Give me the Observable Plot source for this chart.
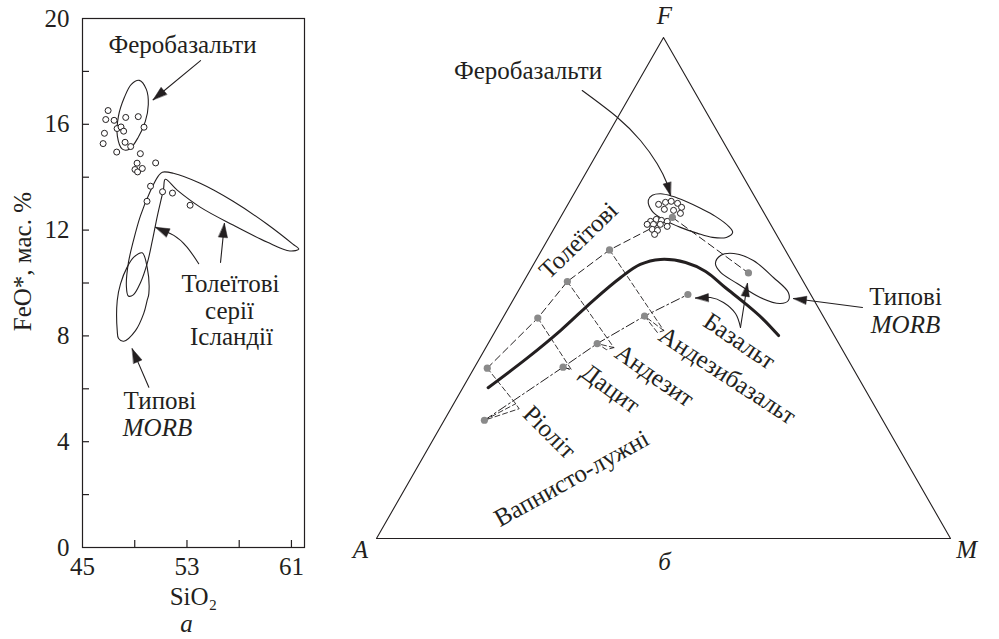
<!DOCTYPE html>
<html><head><meta charset="utf-8">
<script src="https://cdn.jsdelivr.net/npm/d3@7"></script>
<script src="https://cdn.jsdelivr.net/npm/@observablehq/plot@0.6"></script>
<style>
html,body{margin:0;padding:0;background:#fff;}
#wrap{position:relative;width:999px;height:639px;overflow:hidden;background:#fff;}
#wrap svg{position:absolute;top:0;max-width:none;}
</style></head>
<body><div id="wrap"></div>
<script>
// ===================== LEFT PANEL (a): SiO2 vs FeO* =====================
const sio2 = [46.96,46.78,47.42,48.31,49.27,46.68,47.65,47.95,48.15,49.71,46.58,48.26,48.69,47.62,49.43,49.18,50.60,49.02,49.22,49.58,50.21,49.94,51.13,51.89,53.24];
const feo  = [16.52,16.18,16.15,16.26,16.29,15.66,15.84,15.90,15.74,15.89,15.27,15.32,15.16,14.95,14.89,14.53,14.54,14.29,14.20,14.33,13.66,13.09,13.45,13.40,12.94];
const yTickLabels = [0,4,8,12,16,20];
const yTicks = [2,4,6,8,10,12,14,16,18];
const xTickLabels = [45,53,61];
const xTicks = [49,53,57,61];
const ferroFieldLeft = [[49.35,17.66],[49.89,17.32],[50.04,16.75],[49.81,16.11],[49.27,15.51],[48.59,15.06],[48.05,15.06],[47.67,15.55],[47.75,16.30],[48.21,17.02],[48.74,17.51]];
const icelandField = [[51.11,14.19],[51.95,14.15],[54.01,13.77],[56.53,13.09],[59.12,12.23],[61.11,11.47],[61.56,11.28],[60.88,11.21],[59.12,11.55],[56.53,12.19],[54.01,12.87],[52.25,13.51],[51.34,13.92],[51.20,13.55],[50.73,12.53],[50.34,11.58],[49.96,10.75],[49.43,10.00],[48.89,9.55],[48.51,9.51],[48.36,9.89],[48.51,10.75],[48.89,11.58],[49.43,12.53],[50.19,13.47],[50.80,14.04]];
const morbFieldLeft = [[49.57,11.14],[49.95,10.60],[50.08,9.60],[49.95,9.34],[49.69,8.85],[49.06,8.20],[48.16,7.80],[47.76,7.90],[47.66,8.20],[47.66,9.34],[47.91,9.97],[48.42,10.60],[48.93,10.98]];
const leftLabels = [
  {t:"Феробазальти", x:52.66, y:18.98},
  {t:"Толеїтові", x:56.33, y:9.98},
  {t:"серії", x:56.26, y:8.96},
  {t:"Ісландії", x:56.41, y:7.94},
  {t:"Типові", x:50.93, y:5.52},
  {t:"SiO₂", x:53.5, y:-1.89}
];
const leftItalic = [{t:"MORB", x:50.74, y:4.50},{t:"а", x:52.96, y:-2.91}];
const leftYLabel = [{t:"FeO*, мас. %", x:40.48, y:10.81}];
const leftArrows = [
  {pts:[[54.04,18.41],[50.41,16.93]]},
  {pts:[[53.90,10.73],[53.02,11.35],[51.99,11.80],[50.59,12.11]]},
  {pts:[[55.57,10.78],[55.87,12.25]]},
  {pts:[[50.08,6.06],[48.81,7.51]]}
];

// ===================== RIGHT PANEL (б): AFM ternary (A, F, M in %) =====================
const thoA = [63.7,49.9,41.1,30.6,16.4,8.7];
const thoF = [34.0,44.0,51.3,57.6,64.1,53.0];
const thoM = [2.3,6.1,7.6,11.8,19.5,38.3];
const caA = [69.4,50.4,42.1,31.1,21.4];
const caF = [23.6,34.2,38.9,44.4,48.7];
const caM = [7.0,15.4,19.0,24.5,29.9];
const bndA = [65.5,55.6,47.2,38.5,31.4,26.7,22.7,18.6,16.0,14.2,12.3,10.8,9.7];
const bndF = [30.1,36.1,41.5,47.5,52.1,54.7,55.7,55.1,53.3,50.1,46.9,43.9,40.5];
const bndM = [4.4,8.3,11.3,14.0,16.5,18.6,21.6,26.3,30.7,35.7,40.8,45.3,49.8];
const fbA = [17.5,16.1,15.0,14.1,13.8,17.0,15.5,14.6,20.6,19.4,18.6,17.7,21.5,20.4,19.2,18.2,21.1,20.3,21.2];
const fbF = [66.7,67.1,67.3,66.9,66.1,65.7,65.5,64.9,63.3,63.7,63.5,63.3,62.7,62.7,62.7,62.3,61.7,61.5,60.7];
const fbM = [15.8,16.8,17.7,19.0,20.1,17.3,19.0,20.5,16.1,16.9,17.9,19.0,15.8,16.9,18.1,19.5,17.2,18.2,18.1];
const ferroFieldRight = [[18.9,67.5,13.6],[17.7,68.5,13.8],[16.1,68.8,15.1],[14.3,68.3,17.4],[12.5,67.3,20.2],[10.6,65.9,23.5],[8.8,64.3,26.9],[7.5,62.3,30.2],[7.4,61.1,31.5],[9.0,60.1,30.9],[11.4,60.1,28.5],[13.6,60.9,25.5],[16.0,62.1,21.9],[18.2,63.7,18.1],[19.3,65.3,15.4]];
const morbFieldRight = [[13.5,54.9,31.6],[11.8,56.5,31.7],[9.3,56.9,33.8],[6.6,55.5,37.9],[4.8,52.1,43.1],[3.7,49.1,47.2],[4.5,47.5,48.0],[6.2,46.9,46.9],[9.1,48.1,42.8],[11.7,50.9,37.4],[13.5,53.1,33.4]];
const triangleAFM = [[100,0,0],[0,100,0],[0,0,100]];
// rock callouts: tholeiitic point index, calc-alkaline point index, two callout vertices (A,F,M)
const callouts = [
  {tho:0, ca:0, v1:[62.3,26.9,10.8], v2:[62.2,25.9,11.9]},
  {tho:1, ca:1, v1:[49.2,33.7,17.1], v2:[49.2,33.7,17.1]},
  {tho:2, ca:2, v1:[39.6,38.1,22.3], v2:[41.1,37.7,21.2]},
  {tho:3, ca:3, v1:[29.2,41.5,29.3], v2:[30.5,41.1,28.4]}
];
// labels in the diagram's cartesian frame (u = M + F/2, v = F)
const rightLabels = [
  {t:"Феробазальти", u:0.2639, v:0.9331, r:0},
  {t:"Толеїтові", u:0.3519, v:0.5948, r:-44},
  {t:"Ріоліт", u:0.3014, v:0.2122, r:45},
  {t:"Дацит", u:0.4077, v:0.2994, r:36},
  {t:"Андезит", u:0.4843, v:0.3253, r:35},
  {t:"Андезибазальт", u:0.6115, v:0.3253, r:33},
  {t:"Базальт", u:0.6324, v:0.3938, r:34},
  {t:"Вапнисто-лужні", u:0.3397, v:0.1198, r:-29},
  {t:"Типові", u:0.9216, v:0.4830, r:0}
];
const rightItalic = [
  {t:"MORB", u:0.9216, v:0.4271},
  {t:"F", u:0.5017, v:1.0439},
  {t:"A", u:-0.0279, v:-0.022},
  {t:"M", u:1.028, v:-0.022},
  {t:"б", u:0.5017, v:-0.0479}
];
const rightArrows = [
  {pts:[[0.3584,0.8942],[0.4193,0.8409],[0.4599,0.7944],[0.4890,0.7479],[0.5064,0.7080],[0.5122,0.6846]]},
  {pts:[[0.8467,0.4611],[0.7265,0.4790]]},
  {pts:[[0.6341,0.4212],[0.6254,0.4491],[0.6045,0.4711],[0.5819,0.4810],[0.5557,0.4800]]},
  {pts:[[0.6341,0.4212],[0.6463,0.5090]]}
];

// ===================== helpers =====================
const FONT = '"Liberation Serif","Times New Roman",serif';
const INK = "#231f20";
const FS = 25;
const toUV = (a,f,m) => { const s = a+f+m; return {x:(m+f/2)/s, y:f/s}; };
const zipT = (A,F,M) => A.map((a,i) => toUV(a,F[i],M[i]));
const triples = t => t.map(([a,f,m]) => toUV(a,f,m));
const pairs = p => p.map(([x,y]) => ({x,y}));
function linScale(desc){ return d3.scaleLinear().domain(desc.domain).range(desc.range); }
function arrowParts(arrows, sx, sy, L, W){
  const shafts = [], heads = [];
  arrows.forEach((ar,k) => {
    ar.pts.forEach(([x,y]) => shafts.push({x,y,id:k}));
    const p = ar.pts, n = p.length;
    const x1 = sx(p[n-2][0]), y1 = sy(p[n-2][1]), x2 = sx(p[n-1][0]), y2 = sy(p[n-1][1]);
    let dx = x2-x1, dy = y2-y1; const len = Math.hypot(dx,dy); dx/=len; dy/=len;
    const bx = x2-dx*L, by = y2-dy*L, nx = -dy, ny = dx;
    [[x2,y2],[bx+nx*W/2,by+ny*W/2],[bx-nx*W/2,by-ny*W/2]].forEach(([px,py]) =>
      heads.push({x:sx.invert(px), y:sy.invert(py), id:k}));
  });
  return {shafts, heads};
}
const wrap = document.getElementById("wrap");

// ===================== LEFT PLOT =====================
const LW = 340, LH = 639, LML = 82, LMR = 36, LMT = 18, LMB = 92;
const leftBase = {width:LW, height:LH, marginLeft:LML, marginRight:LMR, marginTop:LMT, marginBottom:LMB,
  x:{domain:[45,62]}, y:{domain:[0,20]}};
const probeL = Plot.plot({...leftBase, marks:[Plot.frame()]});
const lsx = linScale(probeL.scale("x")), lsy = linScale(probeL.scale("y"));
const la = arrowParts(leftArrows, lsx, lsy, 14, 9);
const FW = LW-LML-LMR, FH = LH-LMT-LMB;
const left = Plot.plot({
  ...leftBase,
  style:{fontFamily:FONT, fontSize:FS+"px", color:INK, background:"none", overflow:"visible"},
  x:{domain:[45,62], ticks:xTickLabels, tickSize:0, tickPadding:10, tickFormat:d=>String(d), label:null},
  y:{domain:[0,20], ticks:yTickLabels, tickSize:0, tickPadding:13, tickFormat:d=>String(d), label:null},
  marks:[
    Plot.frame({stroke:INK, strokeWidth:1.2}),
    Plot.ruleY(yTicks, {y:d=>d, insetRight:FW-7, stroke:INK, strokeWidth:1.2}),
    Plot.ruleX(xTicks, {x:d=>d, insetTop:FH-7, stroke:INK, strokeWidth:1.2}),
    Plot.line(pairs(ferroFieldLeft), {x:"x", y:"y", curve:"catmull-rom-closed", stroke:INK, strokeWidth:1.1}),
    Plot.line(pairs(icelandField), {x:"x", y:"y", curve:"catmull-rom-closed", stroke:INK, strokeWidth:1.1}),
    Plot.line(pairs(morbFieldLeft), {x:"x", y:"y", curve:"catmull-rom-closed", stroke:INK, strokeWidth:1.1}),
    Plot.dot(sio2.map((x,i)=>({x, y:feo[i]})), {x:"x", y:"y", r:3, stroke:INK, fill:"white", strokeWidth:1}),
    Plot.line(la.shafts, {x:"x", y:"y", z:"id", curve:"natural", stroke:INK, strokeWidth:1.1}),
    Plot.line(la.heads, {x:"x", y:"y", z:"id", curve:"linear-closed", fill:INK, stroke:INK, strokeWidth:0.5}),
    Plot.text(leftLabels, {x:"x", y:"y", text:"t", fontSize:FS, fill:INK}),
    Plot.text(leftItalic, {x:"x", y:"y", text:"t", fontSize:FS, fontStyle:"italic", fill:INK}),
    Plot.text(leftYLabel, {x:"x", y:"y", text:"t", fontSize:FS, rotate:-90, fill:INK})
  ]
});
left.style.left = "0px";
wrap.appendChild(left);

// ===================== RIGHT PLOT =====================
const RW = 659, RH = 639, RML = 36, RMR = 49, RMT = 37, RMB = 101;
const rightBase = {width:RW, height:RH, marginLeft:RML, marginRight:RMR, marginTop:RMT, marginBottom:RMB,
  x:{domain:[0,1], axis:null}, y:{domain:[0,1], axis:null}};
const probeR = Plot.plot({...rightBase, marks:[Plot.frame()]});
const rsx = linScale(probeR.scale("x")), rsy = linScale(probeR.scale("y"));
const ra = arrowParts(rightArrows, rsx, rsy, 13, 8);
const tho = zipT(thoA, thoF, thoM);
const ca = zipT(caA, caF, caM);
const calloutPaths = [];
callouts.forEach((c,k) => {
  const v1 = toUV(...c.v1), v2 = toUV(...c.v2);
  [tho[c.tho], v1, v2, ca[c.ca], v1].forEach(p => calloutPaths.push({...p, id:k}));
});
const right = Plot.plot({
  ...rightBase,
  style:{fontFamily:FONT, fontSize:FS+"px", color:INK, background:"none", overflow:"visible"},
  marks:[
    Plot.line(triples(triangleAFM), {x:"x", y:"y", curve:"linear-closed", stroke:INK, strokeWidth:1.1}),
    Plot.line(calloutPaths, {x:"x", y:"y", z:"id", stroke:INK, strokeWidth:0.9, strokeDasharray:"5,3"}),
    Plot.line(tho, {x:"x", y:"y", stroke:INK, strokeWidth:1, strokeDasharray:"7,4"}),
    Plot.line(ca, {x:"x", y:"y", stroke:INK, strokeWidth:1, strokeDasharray:"9,3,2,3"}),
    Plot.line(zipT(bndA,bndF,bndM), {x:"x", y:"y", curve:"catmull-rom", stroke:INK, strokeWidth:3}),
    Plot.line(triples(ferroFieldRight), {x:"x", y:"y", curve:"catmull-rom-closed", stroke:INK, strokeWidth:1.1}),
    Plot.line(triples(morbFieldRight), {x:"x", y:"y", curve:"catmull-rom-closed", stroke:INK, strokeWidth:1.1}),
    Plot.dot(zipT(fbA,fbF,fbM), {x:"x", y:"y", r:3, stroke:INK, fill:"white", strokeWidth:1}),
    Plot.dot(tho.concat(ca), {x:"x", y:"y", r:3.6, fill:"#8a8a8a", stroke:"none"}),
    Plot.line(ra.shafts, {x:"x", y:"y", z:"id", curve:"natural", stroke:INK, strokeWidth:1.1}),
    Plot.line(ra.heads, {x:"x", y:"y", z:"id", curve:"linear-closed", fill:INK, stroke:INK, strokeWidth:0.5}),
    Plot.text(rightLabels, {x:"u", y:"v", text:"t", rotate:"r", fontSize:FS, fill:INK}),
    Plot.text(rightItalic, {x:"u", y:"v", text:"t", fontSize:FS, fontStyle:"italic", fill:INK})
  ]
});
right.style.left = "340px";
wrap.appendChild(right);
</script>
</body></html>
